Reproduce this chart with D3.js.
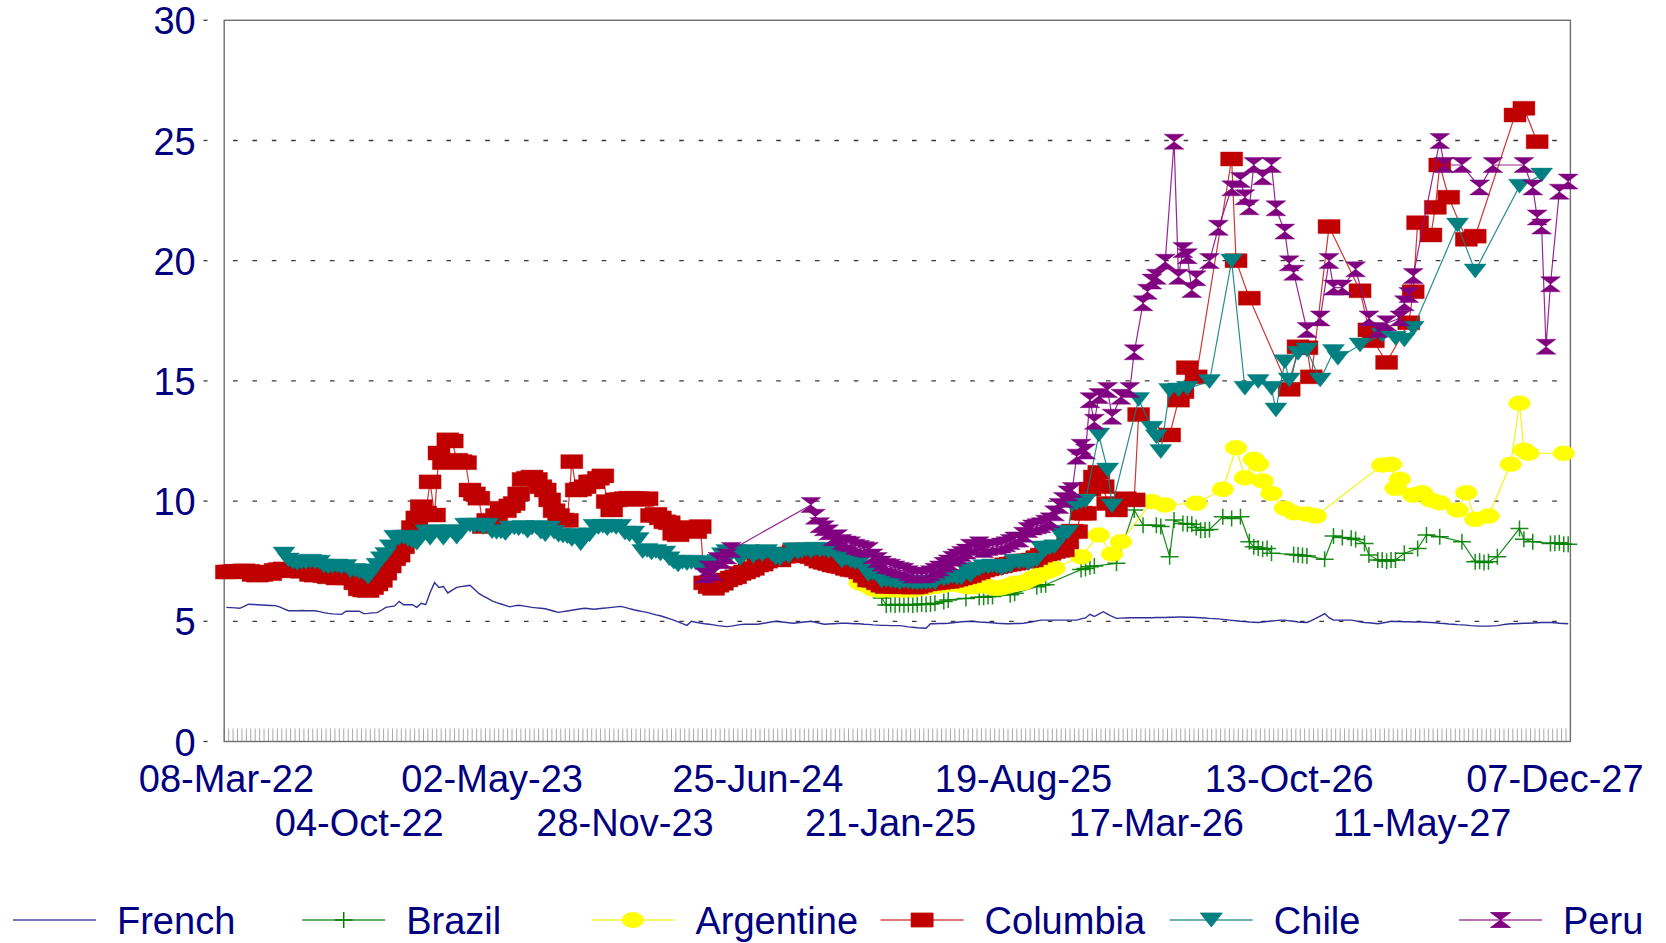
<!DOCTYPE html>
<html><head><meta charset="utf-8">
<script src="https://cdn.jsdelivr.net/npm/d3@7"></script>
<style>
body{margin:0;background:#fff}
svg{display:block}
text{font-family:"Liberation Sans",Arial,Helvetica,sans-serif}
</style>
</head><body>
<svg id="chart" width="1666" height="943"></svg>
<script>
// ---------- DATA ----------
const startDate = new Date(2022, 2, 8);   // first weekly category (08-Mar-22)
const nWeeks = 304;
const tickLabels = ["08-Mar-22","04-Oct-22","02-May-23","28-Nov-23","25-Jun-24","21-Jan-25",
                    "19-Aug-25","17-Mar-26","13-Oct-26","11-May-27","07-Dec-27"];
const yTicks = [0,5,10,15,20,25,30];
const seriesNames = ["French","Brazil","Argentine","Columbia","Chile","Peru"];

// French: one value per week
const french = [
5.58,5.57,5.56,5.54,5.62,5.71,5.70,5.69,5.68,5.67,
5.66,5.65,5.60,5.52,5.44,5.44,5.44,5.45,5.44,5.44,
5.44,5.40,5.36,5.33,5.31,5.30,5.29,5.42,5.42,5.42,
5.42,5.32,5.33,5.35,5.36,5.46,5.58,5.61,5.64,5.83,
5.69,5.69,5.69,5.58,5.75,5.69,6.20,6.61,6.41,6.45,
6.18,6.30,6.41,6.44,6.47,6.50,6.33,6.16,6.05,5.95,
5.85,5.78,5.72,5.66,5.60,5.64,5.67,5.64,5.61,5.58,
5.56,5.54,5.52,5.47,5.42,5.37,5.40,5.43,5.46,5.49,
5.52,5.54,5.52,5.50,5.52,5.54,5.56,5.58,5.60,5.62,
5.58,5.53,5.48,5.44,5.40,5.37,5.32,5.27,5.23,5.17,
5.11,5.05,4.98,4.90,4.83,5.00,4.96,4.93,4.90,4.88,
4.85,4.82,4.80,4.78,4.80,4.83,4.86,4.88,4.88,4.88,
4.88,4.91,4.94,4.97,5.00,4.98,4.96,4.94,4.92,4.94,
4.96,4.98,5.00,4.96,4.92,4.88,4.89,4.90,4.91,4.92,
4.92,4.91,4.90,4.90,4.88,4.87,4.85,4.84,4.83,4.83,
4.82,4.82,4.82,4.80,4.77,4.75,4.73,4.72,4.71,4.90,
4.90,4.91,4.91,4.92,4.94,4.96,4.98,4.99,5.00,4.99,
4.97,4.96,4.95,4.94,4.92,4.91,4.90,4.90,4.91,4.91,
4.92,4.95,4.98,5.02,5.05,5.05,5.05,5.05,5.05,5.05,
5.05,5.05,5.05,5.10,5.14,5.29,5.20,5.30,5.40,5.30,
5.20,5.12,5.13,5.14,5.15,5.15,5.15,5.15,5.15,5.15,
5.16,5.16,5.16,5.17,5.17,5.18,5.18,5.17,5.17,5.16,
5.15,5.14,5.12,5.11,5.10,5.08,5.06,5.04,5.02,5.00,
4.99,4.97,4.96,4.95,4.97,4.99,5.01,5.03,5.05,5.05,
5.02,5.00,4.97,4.96,4.95,5.03,5.12,5.22,5.32,5.15,
5.05,5.05,5.05,5.05,5.05,5.02,4.98,4.95,4.94,4.92,
4.90,4.93,4.96,5.00,4.99,4.99,4.98,4.98,4.97,4.97,
4.97,4.96,4.95,4.94,4.92,4.91,4.89,4.88,4.86,4.85,
4.84,4.82,4.81,4.80,4.80,4.80,4.81,4.82,4.85,4.88,
4.90,4.90,4.91,4.92,4.92,4.93,4.94,4.95,4.95,4.95,
4.94,4.92,4.91,4.90];

// Other series: [week index, value]
const brazil = [[148,5.97],[149,5.68],[150,5.70],[151,5.68],[152,5.70],[153,5.68],[154,5.70],[155,5.68],[156,5.70],[157,5.72],[158,5.70],[159,5.72],[160,5.75],[162,5.82],[163,5.89],[167,5.95],[170,6.00],[171,6.00],[172,6.03],[173,6.03],[177,6.10],[178,6.17],[183,6.44],[184,6.51],[185,6.52],[193,7.15],[194,7.20],[195,7.27],[196,7.30],[201,7.41],[205,9.63],[207,9.00],[210,9.00],[211,8.94],[213,7.69],[214,9.21],[216,9.07],[217,9.05],[218,9.04],[219,8.90],[220,8.79],[221,8.80],[222,8.82],[225,9.35],[227,9.28],[229,9.35],[231,8.31],[232,8.10],[233,8.05],[234,8.00],[235,8.03],[236,7.83],[241,7.78],[242,7.76],[243,7.74],[244,7.72],[248,7.58],[250,8.55],[252,8.49],[254,8.45],[255,8.40],[257,8.24],[258,7.76],[260,7.55],[261,7.55],[262,7.50],[263,7.55],[264,7.55],[266,7.83],[269,8.03],[271,8.59],[274,8.52],[279,8.31],[282,7.48],[283,7.50],[284,7.45],[285,7.48],[287,7.69],[292,8.86],[293,8.41],[295,8.31],[299,8.24],[300,8.25],[301,8.27],[302,8.20],[303,8.21]];

const argentine = [[143,6.60],[144,6.58],[145,6.45],[146,6.35],[147,6.30],[148,6.30],[149,6.35],[150,6.30],[151,6.35],[152,6.30],[153,6.30],[154,6.35],[155,6.30],[156,6.35],[157,6.40],[158,6.40],[159,6.45],[160,6.45],[161,6.50],[162,6.50],[163,6.55],[164,6.55],[165,6.58],[166,6.50],[167,6.45],[168,6.44],[169,6.45],[170,6.50],[171,6.51],[172,6.45],[173,6.40],[174,6.37],[175,6.40],[176,6.45],[177,6.50],[178,6.58],[179,6.58],[180,6.60],[181,6.70],[182,6.80],[183,6.85],[184,6.99],[185,7.05],[186,7.10],[187,7.20],[193,7.69],[197,8.59],[200,7.80],[202,8.31],[209,9.98],[212,9.84],[219,9.91],[225,10.49],[228,12.22],[230,10.97],[232,11.74],[233,11.54],[234,10.84],[236,10.32],[239,9.70],[241,9.52],[244,9.46],[246,9.38],[261,11.50],[263,11.53],[264,10.53],[265,10.91],[268,10.25],[270,10.35],[272,10.05],[274,9.93],[278,9.63],[280,10.35],[282,9.24],[285,9.38],[290,11.53],[292,14.07],[293,12.12],[294,11.99],[302,11.99]];

const columbia = [[0,7.05],[1,7.06],[2,7.08],[3,7.07],[4,7.10],[5,7.08],[6,6.95],[7,6.92],[8,6.95],[9,7.05],
[10,6.98],[11,7.12],[12,7.15],[13,7.18],[14,7.10],[15,7.15],[16,7.12],[17,7.08],[18,7.12],[19,6.95],
[20,6.92],[21,6.96],[22,6.90],[23,6.85],[24,6.90],[25,6.80],[26,6.85],[27,6.80],[28,6.88],[29,6.60],
[30,6.35],[31,6.30],[32,6.28],[33,6.40],[34,6.55],[35,6.70],[36,7.00],[37,7.30],[38,7.60],[39,7.75],
[40,8.10],[41,8.50],[42,8.90],[43,9.30],[44,9.77],[45,9.50],[46,10.80],[47,9.42],[48,12.00],[49,11.60],
[50,12.55],[51,12.50],[52,11.70],[53,11.64],[54,11.60],[55,10.46],[56,10.30],[57,10.12],[58,8.94],[59,9.20],
[60,9.10],[61,9.40],[62,9.70],[63,9.60],[64,9.80],[65,9.90],[66,10.30],[67,10.90],[68,10.95],[69,11.00],
[70,10.90],[71,10.60],[72,10.46],[73,10.05],[74,9.60],[75,9.40],[76,9.21],[77,9.20],[78,11.64],[79,10.46],
[80,10.50],[81,10.60],[82,10.80],[83,10.80],[84,10.95],[85,11.05],[86,9.98],[87,9.63],[88,10.05],[89,10.07],
[90,10.10],[91,10.12],[92,10.10],[93,10.10],[94,10.07],[95,10.10],[96,9.40],[97,9.45],[98,9.30],[99,9.14],
[100,9.10],[101,8.66],[102,8.60],[103,8.90],[104,8.87],[105,8.80],[106,8.73],[107,8.94],[108,6.60],[109,6.44],
[110,6.37],[111,6.50],[112,6.58],[113,6.72],[114,6.80],[115,6.85],[116,6.99],[117,7.05],[118,7.13],[119,7.20],
[120,7.34],[121,7.38],[122,7.50],[123,7.62],[124,7.60],[125,7.55],[126,7.70],[127,7.80],[128,7.90],[129,7.97],
[130,7.80],[131,7.72],[132,7.69],[133,7.60],[134,7.50],[135,7.45],[136,7.40],[137,7.34],[138,7.30],[139,7.27],
[140,7.20],[141,7.15],[142,7.13],[143,7.05],[144,6.90],[145,6.72],[146,6.70],[147,6.60],[148,6.50],[149,6.44],
[150,6.50],[151,6.45],[152,6.44],[153,6.48],[154,6.44],[155,6.42],[156,6.44],[157,6.50],[158,6.55],[159,6.58],
[160,6.60],[161,6.62],[162,6.65],[163,6.66],[164,6.70],[165,6.75],[166,6.80],[167,6.85],[168,6.90],[169,7.00],
[170,7.05],[171,7.13],[172,7.18],[173,7.22],[174,7.27],[175,7.30],[176,7.35],[177,7.38],[178,7.41],[179,7.45],
[180,7.50],[181,7.52],[182,7.55],[183,7.65],[184,7.75],[185,7.80],[186,7.83],[187,7.90],[188,7.95],[189,7.97],
[190,8.30],[191,8.75],[192,8.73],[193,9.50],[194,9.49],[195,10.50],[196,11.00],[197,11.20],[198,10.60],[199,9.90],
[201,9.63],[203,10.10],[205,10.05],[206,13.60],[213,12.75],[215,14.20],[216,14.55],[217,15.55],[219,15.17],
[227,24.23],[228,20.00],[231,18.44],[240,14.65],[242,16.42],[244,16.38],[245,15.17],[249,21.42],[256,18.75],
[258,17.12],[259,16.67],[262,15.77],[267,17.42],[268,18.71],[269,21.58],[272,21.07],[273,22.22],[274,23.98],
[276,22.64],[280,20.89],[282,21.02],[291,26.06],[293,26.34],[296,24.95]];

const chile = [[13,7.80],[14,7.55],[15,7.46],[16,7.40],[17,7.46],[18,7.45],[19,7.50],[20,7.46],[21,7.46],[22,7.30],[23,7.26],[24,7.28],[25,7.30],[26,7.25],[27,7.28],[28,7.10],[29,7.11],[30,7.05],[31,7.00],[32,6.83],[33,7.10],[34,7.33],[35,7.60],[36,7.78],[37,8.10],[38,8.50],[39,8.45],[40,8.50],[41,8.40],[42,8.32],[43,8.25],[44,8.50],[45,8.72],[46,8.45],[47,8.72],[48,8.70],[49,8.45],[50,8.72],[51,8.72],[52,8.50],[53,8.70],[54,9.00],[55,9.00],[56,8.95],[57,9.00],[58,8.90],[59,9.00],[60,8.72],[61,8.70],[62,8.72],[63,8.65],[64,8.88],[65,8.88],[66,8.85],[67,8.90],[68,8.75],[69,8.88],[70,8.90],[71,8.70],[72,8.60],[73,8.88],[74,8.70],[75,8.58],[76,8.55],[77,8.52],[78,8.40],[79,8.58],[80,8.23],[81,8.50],[82,8.60],[83,8.95],[84,8.90],[85,8.95],[86,8.85],[87,8.95],[88,8.90],[89,8.95],[90,8.67],[91,8.60],[92,8.67],[93,8.40],[94,7.90],[95,7.95],[96,7.84],[97,7.90],[98,7.80],[99,7.84],[100,7.60],[101,7.46],[102,7.34],[103,7.46],[104,7.40],[105,7.45],[106,7.43],[107,7.30],[108,7.45],[109,7.35],[110,7.22],[111,7.50],[112,7.77],[113,7.90],[114,7.80],[115,7.90],[116,7.60],[117,7.77],[118,7.90],[119,7.70],[120,7.85],[121,7.77],[122,7.90],[123,7.80],[124,7.63],[125,7.60],[126,7.77],[127,7.70],[128,7.98],[129,7.85],[130,7.90],[131,7.98],[132,7.90],[133,8.00],[134,7.95],[135,7.98],[136,7.90],[137,7.95],[138,7.70],[139,7.50],[140,7.60],[141,7.50],[142,7.45],[143,7.43],[144,7.20],[145,6.94],[146,7.00],[147,6.90],[148,6.67],[149,6.70],[150,6.67],[151,6.65],[152,6.60],[153,6.65],[154,6.62],[155,6.60],[156,6.58],[157,6.60],[158,6.60],[159,6.62],[160,6.60],[161,6.80],[162,6.75],[163,6.80],[164,6.85],[165,6.80],[166,6.80],[167,7.15],[168,6.90],[169,7.10],[170,7.15],[171,7.27],[172,7.25],[173,7.30],[174,7.27],[175,7.20],[176,7.27],[177,7.30],[178,7.50],[179,7.45],[180,7.50],[181,7.40],[182,7.50],[183,7.55],[184,8.05],[185,8.00],[186,8.05],[187,8.10],[188,8.67],[189,8.60],[190,8.70],[191,9.85],[192,9.90],[193,9.97],[194,10.00],[197,12.75],[199,11.29],[200,9.80],[206,14.23],[209,13.03],[210,12.68],[211,12.06],[213,14.60],[215,14.62],[217,14.69],[222,14.97],[227,19.99],[230,14.69],[233,14.97],[236,14.69],[237,13.79],[239,15.80],[240,15.04],[242,16.15],[244,16.29],[247,15.04],[250,16.22],[251,15.94],[256,16.49],[261,16.90],[264,16.77],[266,16.70],[268,17.19],[278,21.48],[282,19.57],[292,23.10],[297,23.56]];

const peru = [[108,6.90],[109,7.20],[110,7.00],[111,7.55],[112,7.50],[113,7.70],[114,7.97],[132,9.84],[133,9.35],[134,9.00],[135,8.87],[136,8.70],[137,8.45],[138,8.50],[139,8.30],[140,8.24],[141,8.20],[142,8.10],[143,8.05],[144,8.00],[145,7.97],[146,7.70],[147,7.55],[148,7.40],[149,7.30],[150,7.27],[151,7.20],[152,7.13],[153,7.10],[154,7.00],[155,6.90],[156,6.93],[157,6.90],[158,6.93],[159,7.00],[160,7.10],[161,7.20],[162,7.35],[163,7.45],[164,7.60],[165,7.70],[166,7.80],[167,7.90],[168,8.10],[169,8.05],[170,8.20],[171,7.97],[172,8.05],[173,8.10],[174,8.10],[175,8.15],[176,8.20],[177,8.30],[178,8.40],[179,8.40],[180,8.60],[181,8.80],[182,8.90],[183,8.95],[184,9.00],[185,9.10],[186,9.20],[187,9.49],[188,9.80],[189,10.05],[190,10.32],[191,10.46],[192,11.85],[193,12.26],[194,12.06],[195,14.20],[196,13.30],[197,14.37],[199,14.62],[200,13.51],[202,14.34],[204,14.62],[205,16.19],[207,18.23],[208,18.71],[209,19.13],[210,19.33],[212,19.96],[214,24.95],[215,19.33],[216,20.44],[217,20.19],[218,18.78],[219,19.27],[222,19.99],[224,21.37],[227,23.01],[229,23.36],[230,22.64],[231,22.22],[232,23.98],[234,23.47],[236,23.98],[237,22.18],[239,21.21],[240,19.89],[241,19.50],[244,17.12],[247,17.60],[249,19.99],[250,18.88],[252,18.88],[255,19.64],[258,17.60],[260,17.12],[262,17.40],[265,17.60],[266,18.23],[267,18.57],[268,19.36],[274,24.98],[275,23.98],[279,23.98],[283,23.05],[286,23.98],[293,23.98],[295,23.05],[296,21.80],[297,21.42],[298,16.42],[299,19.02],[301,22.87],[303,23.29]];

// ---------- CHART ----------
const fmt = d3.timeFormat("%d-%b-%y");
const categories = d3.range(nWeeks).map(k => fmt(d3.timeWeek.offset(startDate, k)));

const svg = d3.select("#chart");
const plot = {l: 224.2, r: 1570.4, t: 20.3, b: 741.5};
const x = d3.scaleBand().domain(categories).range([plot.l, plot.r]).padding(0);
const y = d3.scaleLinear().domain([0, 30]).range([plot.b, plot.t]);
const xc = i => x(categories[i]) + x.bandwidth() / 2;
const navy = "#000080";
const FS = 38;

svg.append("rect").attr("width", 1666).attr("height", 943).attr("fill", "#fff");

// grid lines
const grid = svg.append("g");
grid.selectAll("line.g").data(yTicks.filter(v => v > 0 && v < 30)).join("line")
  .attr("x1", plot.l + 8.8).attr("x2", plot.r)
  .attr("y1", d => y(d)).attr("y2", d => y(d))
  .attr("stroke", "#3a3a3a").attr("stroke-width", 1.3).attr("stroke-dasharray", "4.6,14.8");
grid.selectAll("line.t").data(yTicks).join("line")
  .attr("x1", plot.l - 20.7).attr("x2", plot.l - 16.7)
  .attr("y1", d => y(d)).attr("y2", d => y(d))
  .attr("stroke", "#3a3a3a").attr("stroke-width", 1.3);

// minor category ticks
const bounds = categories.map(c => x(c)).concat([plot.r]);
svg.append("g").selectAll("line").data(bounds).join("line")
  .attr("x1", d => d).attr("x2", d => d)
  .attr("y1", plot.b - 13).attr("y2", plot.b)
  .attr("stroke", "#a8a8a8").attr("stroke-width", 1);

// frame
svg.append("rect").attr("x", plot.l).attr("y", plot.t)
  .attr("width", plot.r - plot.l).attr("height", plot.b - plot.t)
  .attr("fill", "none").attr("stroke", "#6e6e6e").attr("stroke-width", 1.4);

// axes labels
const gx = svg.append("g").call(d3.axisBottom(x).tickValues(tickLabels).tickSize(0).tickPadding(0));
gx.select(".domain").remove();
gx.selectAll(".tick text")
  .attr("y", (d, i) => i % 2 === 0 ? 792 : 836).attr("dy", null)
  .attr("font-size", FS).attr("fill", navy)
  .style("font-family", '"Liberation Sans", Arial, sans-serif');
gx.attr("font-size", null).attr("font-family", null);

const gy = svg.append("g").attr("transform", `translate(${plot.l},0)`)
  .call(d3.axisLeft(y).tickValues(yTicks).tickSize(0).tickPadding(28.5));
gy.select(".domain").remove();
gy.selectAll(".tick text").attr("dy", "0.36em")
  .attr("font-size", FS).attr("fill", navy)
  .style("font-family", '"Liberation Sans", Arial, sans-serif');
gy.attr("font-size", null).attr("font-family", null);

// markers
const markerPath = {
  none: null,
  plus: "M-9,0H9M0,-8V8",
  ellipse: "M-11,0A11,7.5 0 1,0 11,0A11,7.5 0 1,0 -11,0Z",
  square: "M-11,-7H11V7H-11Z",
  triangle: "M-11,-7H11L0,7Z",
  hourglass: "M-10,-7.5H10L-10,7.5H10Z"
};
const styles = [
  {data: french.map((v, i) => [i, v]), line: "#1a1a8c", lw: 1.4, marker: "none", fill: "none"},
  {data: brazil, line: "#008000", lw: 1.2, marker: "plus", fill: "none"},
  {data: argentine, line: "#f2f200", lw: 1.2, marker: "ellipse", fill: "#ffff00"},
  {data: columbia, line: "#c82020", lw: 1.2, marker: "square", fill: "#c00000"},
  {data: chile, line: "#108080", lw: 1.2, marker: "triangle", fill: "#008080"},
  {data: peru, line: "#8a108a", lw: 1.2, marker: "hourglass", fill: "#800080"}
];

const lineGen = d3.line().x(d => xc(d[0])).y(d => y(d[1]));
styles.forEach((s, k) => {
  const g = svg.append("g");
  g.append("path").attr("d", lineGen(s.data)).attr("fill", "none")
    .attr("stroke", s.line).attr("stroke-width", s.lw).attr("stroke-opacity", 0.9);
  if (markerPath[s.marker]) {
    g.selectAll("path.m").data(s.data).join("path").attr("class", "m")
      .attr("transform", d => `translate(${xc(d[0])},${y(d[1])})`)
      .attr("d", markerPath[s.marker])
      .attr("fill", s.fill)
      .attr("stroke", s.marker === "plus" ? s.line : s.fill)
      .attr("stroke-width", s.marker === "plus" ? 1.5 : 0.8)
      .attr("stroke-opacity", s.marker === "plus" ? 0.9 : 0.5);
  }
});

// legend
const lg = svg.append("g").selectAll("g").data(seriesNames).join("g")
  .attr("transform", (d, k) => `translate(${13 + 289.2 * k},920)`);
lg.append("line").attr("x1", 0).attr("x2", 83).attr("y1", 0).attr("y2", 0)
  .attr("stroke", (d, k) => styles[k].line).attr("stroke-width", 2).attr("stroke-opacity", 0.6);
lg.filter((d, k) => markerPath[styles[k].marker]).append("path")
  .attr("transform", "translate(41.5,0)")
  .attr("d", (d, k) => markerPath[styles[seriesNames.indexOf(d)].marker])
  .attr("fill", d => styles[seriesNames.indexOf(d)].fill)
  .attr("stroke", d => { const s = styles[seriesNames.indexOf(d)]; return s.marker === "plus" ? s.line : s.fill; })
  .attr("stroke-width", d => styles[seriesNames.indexOf(d)].marker === "plus" ? 1.5 : 0.8);
lg.append("text").attr("x", 104).attr("y", 13.6).text(d => d)
  .attr("font-size", FS).attr("fill", navy);
</script>
</body></html>
